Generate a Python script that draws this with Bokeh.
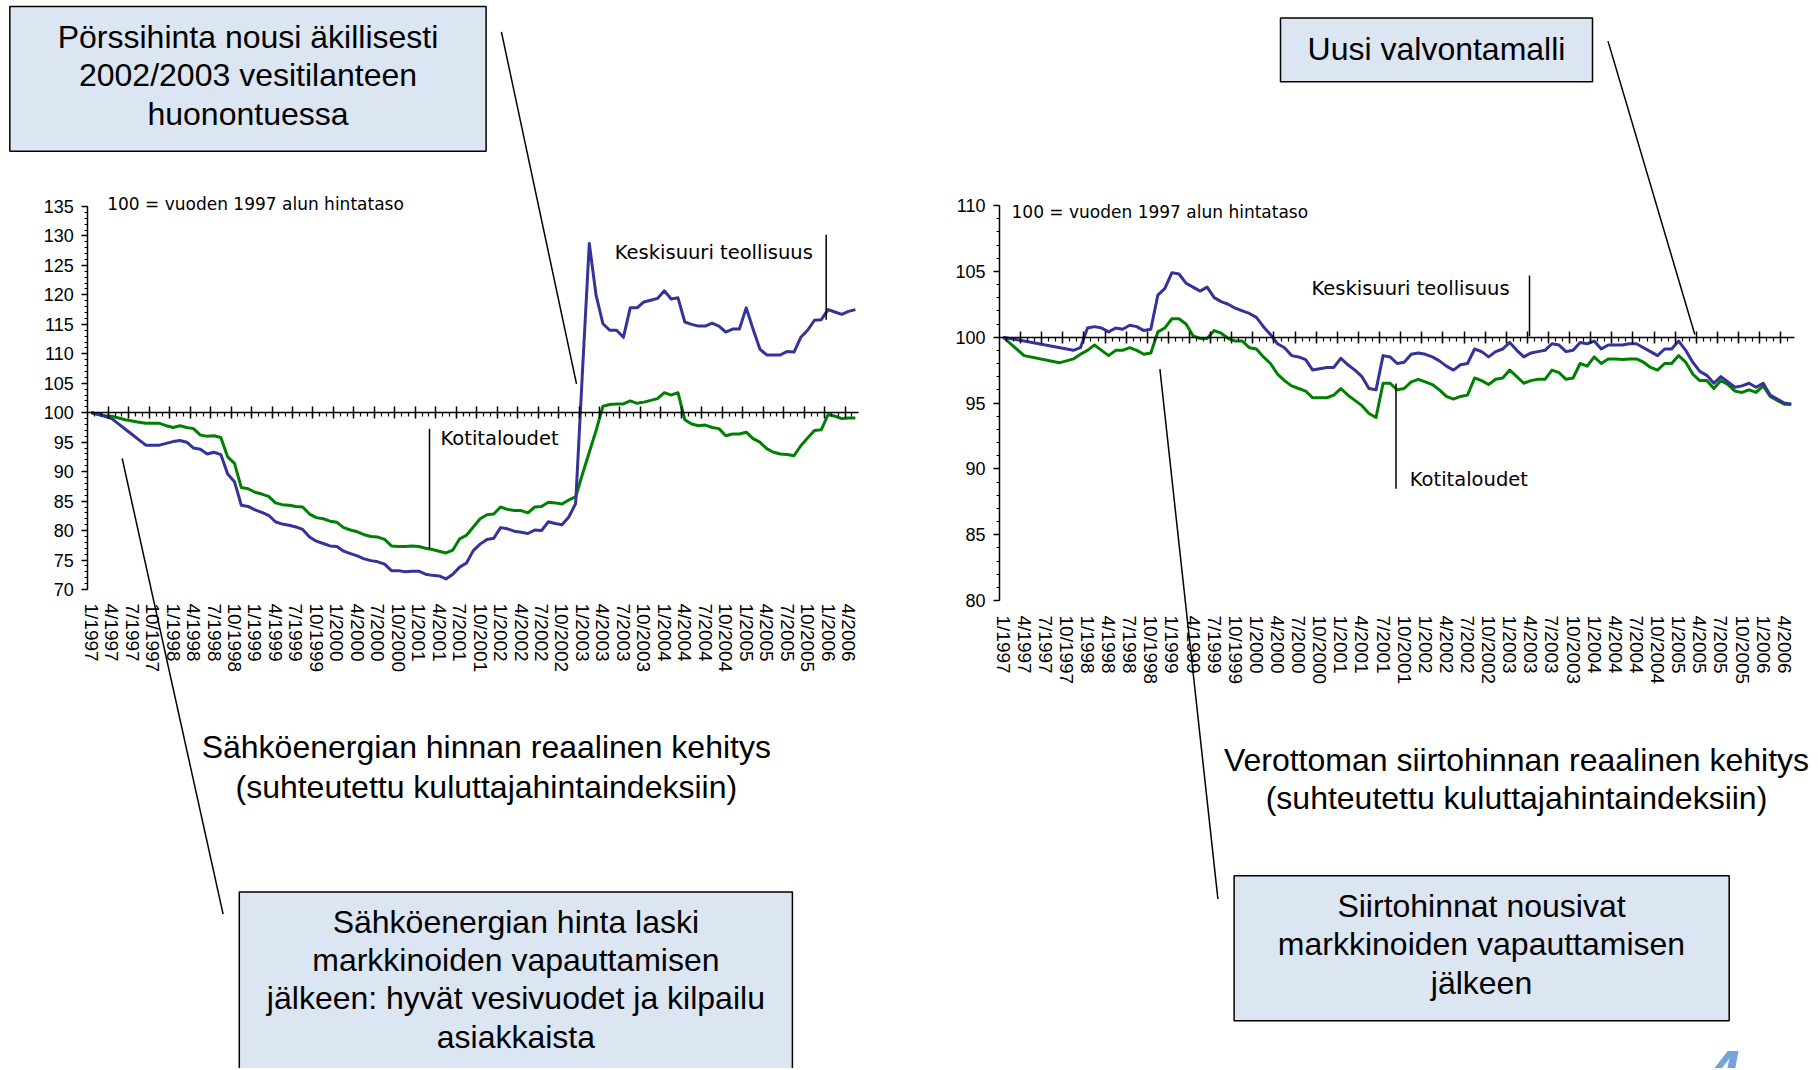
import math
from bokeh.plotting import figure
from bokeh.models import Range1d, LinearAxis, FixedTicker, SingleIntervalTicker
from bokeh.layouts import row
from bokeh.embed import file_html
from bokeh.resources import INLINE
from bokeh.core.properties import value

# ---------------- data ----------------
tick_labels = ["1/1997", "4/1997", "7/1997", "10/1997", "1/1998", "4/1998", "7/1998", "10/1998",
               "1/1999", "4/1999", "7/1999", "10/1999", "1/2000", "4/2000", "7/2000", "10/2000",
               "1/2001", "4/2001", "7/2001", "10/2001", "1/2002", "4/2002", "7/2002", "10/2002",
               "1/2003", "4/2003", "7/2003", "10/2003", "1/2004", "4/2004", "7/2004", "10/2004",
               "1/2005", "4/2005", "7/2005", "10/2005", "1/2006", "4/2006"]
n_months = 113  # 1/1997 ... 5/2006

# Sähköenergian hinta (left chart)
energy_months = list(range(n_months))
energy_industry = [
    100.0, 99.7, 99.4, 99.0, 98.1, 97.2, 96.3, 95.4, 94.5, 94.5,
    94.5, 94.8, 95.1, 95.3, 95.0, 94.0, 93.8, 93.0, 93.3, 92.9,
    89.6, 88.3, 84.3, 84.1, 83.5, 83.1, 82.6, 81.5, 81.1, 80.9,
    80.6, 80.2, 78.9, 78.2, 77.8, 77.4, 77.3, 76.5, 76.1, 75.7,
    75.2, 74.9, 74.7, 74.3, 73.2, 73.2, 73.0, 73.1, 73.1, 72.6,
    72.4, 72.3, 71.8, 72.6, 73.8, 74.5, 76.6, 77.7, 78.5, 78.7,
    80.5, 80.3, 79.9, 79.7, 79.5, 80.1, 80.0, 81.5, 81.2, 81.0,
    82.3, 84.6, 107.0, 128.7, 119.9, 115.1, 114.0, 114.0, 112.8, 117.8,
    117.8, 118.8, 119.1, 119.4, 120.7, 119.3, 119.5, 115.4, 115.0, 114.7,
    114.7, 115.2, 114.7, 113.7, 114.2, 114.2, 117.8, 114.2, 110.8, 109.8,
    109.8, 109.8, 110.4, 110.3, 112.8, 114.0, 115.7, 115.8, 117.5, 117.1,
    116.7, 117.2, 117.5]
energy_households = [
    100.0, 99.8, 99.5, 99.4, 99.1, 98.8, 98.6, 98.4, 98.2, 98.2,
    98.2, 97.8, 97.5, 97.8, 97.5, 97.3, 96.2, 96.0, 96.1, 95.8,
    92.5, 91.4, 87.3, 87.1, 86.5, 86.2, 85.8, 84.7, 84.4, 84.3,
    84.1, 84.0, 82.8, 82.2, 82.0, 81.6, 81.4, 80.5, 80.1, 79.8,
    79.3, 79.0, 78.9, 78.5, 77.4, 77.3, 77.3, 77.4, 77.3, 77.0,
    76.8, 76.5, 76.2, 76.7, 78.6, 79.2, 80.6, 82.0, 82.7, 82.8,
    84.0, 83.6, 83.4, 83.4, 83.0, 84.0, 84.1, 84.8, 84.7, 84.5,
    85.2, 85.7, 89.6, 93.3, 97.0, 101.1, 101.4, 101.5, 101.5, 102.0,
    101.6, 101.8, 102.1, 102.4, 103.4, 103.0, 103.4, 98.8, 98.1, 97.8,
    97.9, 97.5, 97.3, 96.1, 96.4, 96.4, 96.7, 95.6, 95.0, 93.9,
    93.3, 93.0, 92.9, 92.7, 94.4, 95.7, 97.0, 97.1, 99.7, 99.4,
    99.0, 99.1, 99.1]

# Verottoman siirtohinta (right chart)
transfer_industry_months = [0] + list(range(10, n_months))
transfer_industry = [
    100.0,
    99.0, 99.2, 100.7, 100.8, 100.7, 100.4, 100.7, 100.6, 100.9, 100.8,
    100.5, 100.6, 103.2, 103.7, 104.9, 104.8, 104.1, 103.8, 103.5, 103.8,
    103.0, 102.7, 102.5, 102.2, 102.0, 101.8, 101.5, 100.8, 100.2, 99.5,
    99.2, 98.6, 98.5, 98.3, 97.5, 97.6, 97.7, 97.7, 98.4, 97.9,
    97.5, 97.0, 96.1, 96.0, 98.6, 98.5, 98.0, 98.1, 98.7, 98.8,
    98.7, 98.5, 98.2, 97.8, 97.5, 97.9, 98.0, 99.1, 98.9, 98.5,
    98.9, 99.1, 99.6, 99.0, 98.5, 98.8, 98.9, 99.0, 99.5, 99.4,
    98.9, 99.0, 99.6, 99.5, 99.7, 99.1, 99.4, 99.4, 99.4, 99.5,
    99.5, 99.2, 98.9, 98.6, 99.1, 99.1, 99.7, 99.0, 98.1, 97.4,
    97.1, 96.5, 97.0, 96.6, 96.2, 96.3, 96.5, 96.2, 96.5, 95.6,
    95.3, 95.0, 94.9]
transfer_households_months = [0, 3, 8] + list(range(10, n_months))
transfer_households = [
    100.0, 98.6, 98.05,
    98.35, 98.7, 99.0, 99.4, 99.0, 98.6, 99.0, 99.0, 99.2, 99.0,
    98.7, 98.8, 100.4, 100.7, 101.4, 101.4, 101.0, 100.1, 99.9, 99.9,
    100.5, 100.3, 99.9, 99.7, 99.7, 99.2, 99.1, 98.5, 98.0, 97.2,
    96.7, 96.3, 96.1, 95.9, 95.4, 95.4, 95.4, 95.6, 96.1, 95.6,
    95.2, 94.8, 94.2, 93.9, 96.5, 96.5, 96.0, 96.1, 96.6, 96.8,
    96.6, 96.4, 96.0, 95.5, 95.3, 95.5, 95.6, 96.9, 96.7, 96.4,
    96.8, 96.9, 97.5, 97.0, 96.5, 96.7, 96.8, 96.8, 97.5, 97.3,
    96.8, 96.9, 98.0, 97.8, 98.5, 98.0, 98.35, 98.35, 98.3, 98.35,
    98.35, 98.1, 97.7, 97.5, 98.0, 98.0, 98.6, 98.1, 97.2, 96.7,
    96.7, 96.1, 96.7, 96.4, 95.9, 95.8, 96.0, 95.8, 96.3, 95.5,
    95.2, 94.9, 94.9]

label_ticks = list(range(0, 3 * len(tick_labels), 3))

BLUE = "#333399"
GREEN = "#008000"
BOX_FILL = "#DCE6F2"

# ---------------- layout constants (page pixels) ----------------
H = 1068
PAGE_Y0 = 0
W_L, W_R = 878, 938
X0_L, X0_R = 0, W_L


def make_chart(page_x0, width, ax_left, ax_right, y_top_val, y_top_px, y_bot_val, y_bot_px,
               ytick_font_size, label_standoff):
    w = (ax_right - ax_left) / n_months
    i0 = ax_left + 0.5 * w
    xs = (page_x0 - i0) / w
    xe = (page_x0 + width - i0) / w
    ppu = (y_bot_px - y_top_px) / (y_top_val - y_bot_val)
    ys = y_bot_val - (PAGE_Y0 + H - y_bot_px) / ppu
    ye = y_top_val + (y_top_px - PAGE_Y0) / ppu
    p = figure(width=width, height=H, x_range=Range1d(xs, xe), y_range=Range1d(ys, ye),
               x_axis_type=None, y_axis_type=None, toolbar_location=None,
               output_backend="svg", min_border=0, outline_line_color=None)
    p.extra_x_ranges = {"px": Range1d(page_x0, page_x0 + width)}
    p.extra_y_ranges = {"px": Range1d(PAGE_Y0 + H, PAGE_Y0)}

    # y axis
    yax = LinearAxis(fixed_location=-0.5, bounds=(y_bot_val, y_top_val),
                     ticker=SingleIntervalTicker(interval=5, num_minor_ticks=5))
    yax.axis_line_color = "black"
    yax.axis_line_width = 1.5
    yax.major_tick_line_color = "black"
    yax.major_tick_line_width = 1.5
    yax.minor_tick_line_color = "black"
    yax.minor_tick_line_width = 1.2
    yax.major_tick_in = 0
    yax.major_tick_out = 6
    yax.minor_tick_in = 0
    yax.minor_tick_out = 3
    yax.major_label_standoff = 8
    yax.major_label_text_font = "Liberation Sans"
    yax.major_label_text_font_size = ytick_font_size
    yax.major_label_text_color = "black"
    p.add_layout(yax, "left")

    # category axis crossing at 100
    majors = [2.5 + 3 * k for k in range(37)]
    minors = [0.5 + k for k in range(n_months - 1)]
    xax = LinearAxis(fixed_location=100, bounds=(-0.5, n_months - 0.5),
                     ticker=FixedTicker(ticks=majors, minor_ticks=minors),
                     major_label_overrides={m: "" for m in majors})
    xax.axis_line_color = "black"
    xax.axis_line_width = 1.5
    xax.major_tick_line_color = "black"
    xax.major_tick_line_width = 1.5
    xax.minor_tick_line_color = "black"
    xax.minor_tick_line_width = 1.2
    xax.major_tick_in = 6
    xax.major_tick_out = 6
    xax.minor_tick_in = 0
    xax.minor_tick_out = 4
    xax.major_label_text_font_size = "1px"
    p.add_layout(xax, "below")

    # tick labels at the bottom
    lab = LinearAxis(fixed_location=y_bot_val, bounds=(-0.5, n_months - 0.5),
                     ticker=FixedTicker(ticks=label_ticks, minor_ticks=[]),
                     major_label_overrides=dict(zip(label_ticks, tick_labels)))
    lab.axis_line_color = None
    lab.major_tick_line_color = None
    lab.minor_tick_line_color = None
    lab.major_tick_in = 0
    lab.major_tick_out = 0
    lab.major_label_orientation = "vertical"
    lab.major_label_standoff = label_standoff
    lab.major_label_text_font = "Liberation Sans"
    lab.major_label_text_font_size = "19px"
    lab.major_label_text_color = "black"
    p.add_layout(lab, "below")
    return p


def px_text(p, xs, ys, texts, size, font="Liberation Sans", align="center", style="normal", color="black"):
    p.text(x=xs, y=ys, text=texts, text_font=value(font), text_font_size=value(size),
           text_align=align, text_baseline="middle", text_color=color, text_font_style=style,
           x_range_name="px", y_range_name="px")


def px_box(p, l, r, t, b):
    p.quad(left=[l], right=[r], top=[t], bottom=[b], fill_color=BOX_FILL, line_color="black",
           line_width=1.5, x_range_name="px", y_range_name="px")


def px_lines(p, x0, y0, x1, y1, width=1.5):
    p.segment(x0=x0, y0=y0, x1=x1, y1=y1, line_color="black", line_width=width,
              x_range_name="px", y_range_name="px")


# ---------------- left chart ----------------
pl = make_chart(X0_L, W_L, 87.3, 858.3, 135, 206, 70, 589, "18px", 14)
pl.line(energy_months, energy_households, line_color=GREEN, line_width=3, line_join="round")
pl.line(energy_months, energy_industry, line_color=BLUE, line_width=3, line_join="round")

px_box(pl, 9.3, 485.6, 6, 150.7)
px_text(pl, [247.5] * 3, [36.5, 74.8, 113.0],
        ["Pörssihinta nousi äkillisesti", "2002/2003 vesitilanteen", "huonontuessa"], "32px")
px_lines(pl, [500.9, 825.7, 429.0, 121.7], [31.3, 234.3, 428.3, 458.0],
         [576.0, 825.7, 429.0, 222.6], [383.3, 319.3, 548.3, 913.6])
px_text(pl, [106.7], [203.3], ["100 = vuoden 1997 alun hintataso"], "17px", font="DejaVu Sans", align="left")
px_text(pl, [614.3], [252.0], ["Keskisuuri teollisuus"], "19.5px", font="DejaVu Sans", align="left")
px_text(pl, [440.0], [438.3], ["Kotitaloudet"], "19.5px", font="DejaVu Sans", align="left")
px_text(pl, [485.8, 485.8], [746.5, 786.0],
        ["Sähköenergian hinnan reaalinen kehitys", "(suhteutettu kuluttajahintaindeksiin)"], "32px")
px_box(pl, 238.8, 791.9, 891.5, 1090)
px_text(pl, [515.4] * 4, [921.5, 959.7, 997.9, 1036.2],
        ["Sähköenergian hinta laski", "markkinoiden vapauttamisen",
         "jälkeen: hyvät vesivuodet ja kilpailu", "asiakkaista"], "32px")

# ---------------- right chart ----------------
pr = make_chart(X0_R, W_R, 999.0, 1794.3, 110, 205, 80, 600, "18px", 15)
pr.line(transfer_households_months, transfer_households, line_color=GREEN, line_width=3, line_join="round")
pr.line(transfer_industry_months, transfer_industry, line_color=BLUE, line_width=3, line_join="round")

px_box(pr, 1280, 1592, 17.4, 81.2)
px_text(pr, [1436], [48.7], ["Uusi valvontamalli"], "32px")
px_lines(pr, [1607.5, 1529.0, 1395.5, 1217.4], [40.6, 275.0, 383.0, 898.5],
         [1694.3, 1529.0, 1395.5, 1159.4], [334.0, 335.7, 488.3, 368.7])
px_text(pr, [1011], [211], ["100 = vuoden 1997 alun hintataso"], "17px", font="DejaVu Sans", align="left")
px_text(pr, [1311], [288], ["Keskisuuri teollisuus"], "19.5px", font="DejaVu Sans", align="left")
px_text(pr, [1409.3], [479], ["Kotitaloudet"], "19.5px", font="DejaVu Sans", align="left")
px_text(pr, [1516, 1516], [759.5, 797.5],
        ["Verottoman siirtohinnan reaalinen kehitys", "(suhteutettu kuluttajahintaindeksiin)"], "32px")
px_box(pr, 1233.6, 1728.7, 875.3, 1020.3)
px_text(pr, [1481] * 3, [905.5, 943.7, 982.0],
        ["Siirtohinnat nousivat", "markkinoiden vapauttamisen", "jälkeen"], "32px")
px_text(pr, [1706], [1071], ["4"], "60px", align="left", style="bold italic", color="#74A5DA")

layout = row(pl, pr, spacing=0)
open("out.html", "w").write(file_html(layout, INLINE))
